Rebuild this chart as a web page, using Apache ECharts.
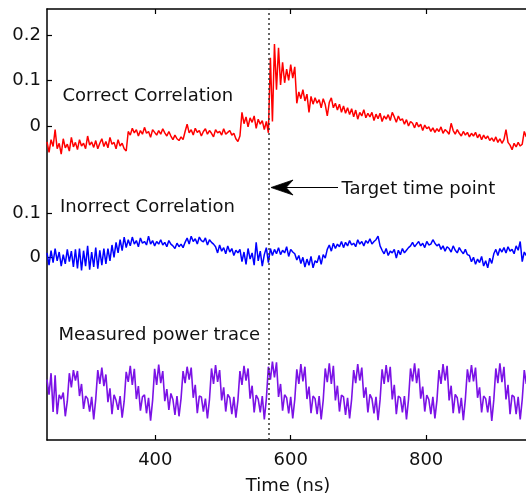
<!DOCTYPE html>
<html>
<head>
<meta charset="utf-8">
<script src="https://cdn.jsdelivr.net/npm/echarts@6/dist/echarts.min.js"></script>
<style>
  html, body { margin: 0; padding: 0; background: #fff; }
  #chart { width: 526px; height: 496px; }
</style>
</head>
<body>
<div id="chart"></div>
<script>
// Sampling grid of all three traces (ns)
const T_START = 240;
const T_STEP = 3;
const T_MIN = 240;
const T_MAX = 952;
const TARGET_TIME = 568;

const xTicks = [400, 600, 800];
const correctTicks = [0, 0.1, 0.2];
const incorrectTicks = [0, 0.1];

// Correlation with the correct key guess
const correctCorr = [
  -0.035,-0.058,-0.030,-0.045,-0.008,-0.050,-0.038,-0.062,-0.028,-0.048,
  -0.040,-0.055,-0.025,-0.046,-0.036,-0.052,-0.030,-0.044,-0.038,-0.050,
  -0.022,-0.042,-0.035,-0.047,-0.032,-0.050,-0.038,-0.028,-0.045,-0.034,
  -0.048,-0.025,-0.040,-0.036,-0.050,-0.030,-0.044,-0.038,-0.050,-0.055,
  -0.012,-0.020,-0.005,-0.015,-0.008,-0.022,-0.010,-0.018,-0.003,-0.016,
  -0.012,-0.025,-0.008,-0.014,-0.020,-0.010,-0.018,-0.006,-0.015,-0.022,-0.012,
  -0.022,-0.030,-0.020,-0.028,-0.032,-0.024,-0.030,
  -0.012,0.004,-0.015,-0.008,-0.020,-0.005,-0.014,-0.010,-0.022,-0.012,
  -0.006,-0.018,-0.010,-0.016,-0.024,-0.008,-0.015,-0.012,-0.020,-0.006,
  -0.018,-0.014,-0.010,-0.020,-0.016,
  -0.028,-0.034,-0.022,
  0.030,0.005,0.020,-0.002,0.018,0.008,0.022,-0.005,0.015,0.004,0.012,-0.008,0.010,
  -0.015,
  0.150,0.010,0.180,0.080,0.172,0.090,0.140,0.095,0.125,0.100,0.135,0.105,0.130,
  0.050,0.075,0.060,0.080,0.055,0.070,0.030,
  0.065,0.048,0.062,0.050,0.058,0.040,0.060,0.047,0.022,0.052,
  0.062,0.040,0.050,0.035,0.048,0.030,0.044,0.028,0.040,0.025,
  0.038,0.020,0.035,0.015,0.030,0.022,0.036,0.018,0.028,0.020,
  0.030,0.012,0.026,0.016,0.028,0.010,0.022,0.015,0.025,0.012,
  0.030,0.020,0.008,0.022,0.012,0.016,0.004,0.014,0.000,0.010,
  0.006,-0.004,0.008,-0.002,0.004,-0.010,0.002,-0.006,-0.002,-0.012,
  -0.004,-0.014,-0.006,-0.012,-0.002,-0.016,-0.008,-0.012,-0.018,0.006,
  -0.010,-0.018,-0.008,-0.016,-0.022,-0.012,-0.020,-0.014,-0.024,-0.016,
  -0.022,-0.014,-0.026,-0.018,-0.030,-0.020,-0.028,-0.022,-0.032,-0.026,
  -0.034,-0.024,-0.036,-0.028,-0.038,-0.030,-0.008,-0.036,-0.042,-0.052,
  -0.038,-0.046,-0.036,-0.044,-0.040,-0.012,-0.024
];

// Correlation with a wrong key guess
const incorrectCorr = [
  0.010,-0.018,0.015,-0.012,0.020,-0.008,0.012,-0.020,0.006,-0.015,0.018,-0.010,0.014,-0.022,
  0.018,-0.025,0.020,-0.030,0.015,-0.020,0.026,-0.028,0.012,-0.022,0.022,-0.026,0.016,-0.018,0.020,
  -0.015,0.020,-0.008,0.028,0.000,0.034,0.010,0.040,0.015,0.046,
  0.022,0.040,0.026,0.046,0.030,0.038,0.024,0.044,0.032,0.036,0.028,0.048,
  0.030,0.038,0.026,0.036,0.030,0.040,0.028,0.034,0.024,0.038,0.030,0.026,
  0.020,0.032,0.024,0.030,0.022,
  0.034,0.044,0.030,0.048,0.036,0.042,0.030,0.046,0.038,0.035,0.044,0.028,0.040,0.034,0.030,
  0.024,0.010,0.028,0.014,0.022,0.008,0.026,0.012,0.020,0.004,0.016,0.010,
  0.018,-0.010,0.012,-0.016,0.020,-0.004,0.010,-0.018,0.034,-0.008,0.014,-0.020,0.006,0.022,-0.012,
  0.020,0.004,0.018,0.008,0.022,0.006,0.016,0.010,0.024,0.002,0.018,0.012,0.008,
  -0.006,0.004,-0.014,0.000,-0.022,-0.004,-0.018,0.002,-0.024,-0.008,-0.012,0.004,-0.016,0.006,-0.002,
  0.018,0.028,0.014,0.032,0.020,0.030,0.024,0.036,0.022,0.034,0.026,0.038,0.028,0.032,
  0.024,0.040,0.030,0.036,0.026,0.038,0.032,0.042,0.030,0.036,0.040,0.048,0.026,
  0.016,0.008,0.020,0.004,0.014,0.010,0.018,-0.002,0.016,0.006,0.020,0.010,0.016,0.022,
  0.026,0.034,0.024,0.030,0.036,0.026,0.032,0.022,0.036,0.028,0.030,0.040,0.032,0.026,0.030,
  0.018,0.026,0.014,0.024,0.020,0.012,0.026,0.016,0.010,0.022,0.014,0.008,0.018,0.006,
  0.004,-0.010,0.000,-0.016,-0.004,-0.012,0.002,-0.020,-0.008,-0.024,-0.002,-0.014,
  0.008,0.018,0.004,0.020,0.012,0.022,0.010,0.024,0.014,0.018,0.008,0.026,0.016,0.036,
  -0.010,0.012,0.004
];

// Measured power trace (arbitrary units)
const powerTrace = [
  1.40,1.05,1.55,0.65,1.50,0.60,1.05,0.95,1.10,0.55,0.90,
  1.55,1.22,1.62,1.38,1.60,1.02,1.30,0.72,1.02,0.96,0.66,1.00,0.48,0.95,
  1.62,1.30,1.68,1.25,1.52,0.88,1.20,0.60,1.05,0.92,0.70,1.02,0.52,0.90,
  1.58,1.35,1.72,1.28,1.65,0.95,1.25,0.68,1.00,1.05,0.62,0.98,0.45,0.92,
  1.65,1.28,1.75,1.32,1.60,0.90,1.18,0.70,1.08,0.94,0.58,1.02,0.55,0.96,
  1.60,1.32,1.70,1.40,1.68,0.98,1.28,0.62,1.02,1.00,0.66,0.96,0.50,0.94,
  1.66,1.30,1.74,1.35,1.62,0.92,1.22,0.66,1.06,0.98,0.60,1.00,0.52,0.92,
  1.60,1.28,1.72,1.38,1.66,0.96,1.26,0.64,1.04,0.95,0.64,1.02,0.48,0.95,
  1.70,1.40,1.82,1.45,1.80,1.00,1.30,0.68,1.05,0.98,0.62,1.00,0.50,0.94,
  1.64,1.30,1.76,1.36,1.70,0.95,1.24,0.62,1.02,0.96,0.60,1.02,0.48,0.92,
  1.66,1.34,1.78,1.30,1.72,0.92,1.26,0.66,1.04,1.00,0.58,0.98,0.50,0.95,
  1.62,1.32,1.76,1.38,1.68,0.98,1.22,0.64,1.06,0.96,0.62,1.00,0.46,0.93,
  1.64,1.30,1.74,1.34,1.70,0.94,1.28,0.60,1.02,0.98,0.64,1.02,0.48,0.94,
  1.66,1.36,1.78,1.32,1.66,0.96,1.24,0.66,1.04,0.94,0.60,1.00,0.50,0.92,
  1.62,1.30,1.76,1.38,1.72,0.92,1.26,0.62,1.06,0.98,0.62,0.98,0.46,0.95,
  1.64,1.34,1.74,1.36,1.68,0.98,1.22,0.64,1.02,0.96,0.64,1.02,0.44,0.93,
  1.66,1.32,1.78,1.34,1.70,0.94,1.28,0.60,1.04,1.00,0.60,1.00,0.48,0.94,
  1.62,1.30
];

const FONT = 'DejaVu Sans';
const INK = '#111';

function withTime(values) {
  return values.map((v, i) => [T_START + i * T_STEP, v]);
}

const chart = echarts.init(document.getElementById('chart'), null, { renderer: 'canvas' });

const axisLineStyle = { color: '#000', width: 1.5 };
const tickStyle = { color: '#000', width: 1.2 };
const oneDecimal = v => String(Math.round(v * 10) / 10);

chart.setOption({
  animation: false,
  backgroundColor: '#fff',
  // plot rect fixed by the margins; the right edge of the frame sits just past the canvas
  grid: { left: 47, right: -3, top: 9, bottom: 56, containLabel: false, outerBoundsMode: 'none' },
  xAxis: [
    {
      type: 'value', position: 'bottom', min: T_MIN, max: T_MAX,
      axisLine: { show: true, onZero: false, lineStyle: axisLineStyle },
      axisTick: { show: true, inside: true, length: 5, customValues: xTicks, lineStyle: tickStyle },
      axisLabel: { customValues: xTicks, fontSize: 18, fontFamily: FONT, color: INK, margin: 11 },
      splitLine: { show: false },
      name: 'Time (ns)', nameLocation: 'middle', nameGap: 37,
      nameTextStyle: { fontSize: 18, fontFamily: FONT, color: INK }
    },
    {
      type: 'value', position: 'top', min: T_MIN, max: T_MAX,
      axisLine: { show: true, onZero: false, lineStyle: axisLineStyle },
      axisTick: { show: true, inside: true, length: 5, customValues: xTicks, lineStyle: tickStyle },
      axisLabel: { show: false },
      splitLine: { show: false }
    }
  ],
  yAxis: [
    {
      // correct-key correlation
      type: 'value', position: 'left', min: -0.690, max: 0.2571,
      axisLine: { show: true, onZero: false, lineStyle: axisLineStyle },
      axisTick: { show: true, inside: true, length: 5, customValues: correctTicks, lineStyle: tickStyle },
      axisLabel: { customValues: correctTicks, fontSize: 18, fontFamily: FONT, color: INK, margin: 6,
                   formatter: oneDecimal },
      splitLine: { show: false }
    },
    {
      // wrong-key correlation
      type: 'value', position: 'left', min: -0.4152, max: 0.5643,
      axisLine: { show: false },
      axisTick: { show: true, inside: true, length: 5, customValues: incorrectTicks, lineStyle: tickStyle },
      axisLabel: { customValues: incorrectTicks, fontSize: 18, fontFamily: FONT, color: INK, margin: 6,
                   formatter: oneDecimal },
      splitLine: { show: false }
    },
    {
      // power trace
      type: 'value', position: 'left', min: 0, max: 10, show: false,
      splitLine: { show: false }
    }
  ],
  series: [
    {
      name: 'Correct Correlation', type: 'line', xAxisIndex: 0, yAxisIndex: 0,
      data: withTime(correctCorr), showSymbol: false, symbol: 'none',
      lineStyle: { color: '#ff0000', width: 1.5 }, z: 3,
      markLine: {
        silent: true, symbol: ['none', 'none'],
        label: { show: false },
        lineStyle: { color: '#333', type: [2, 3], width: 1.5 },
        data: [{ xAxis: TARGET_TIME }]
      }
    },
    {
      name: 'Inorrect Correlation', type: 'line', xAxisIndex: 0, yAxisIndex: 1,
      data: withTime(incorrectCorr), showSymbol: false, symbol: 'none',
      lineStyle: { color: '#0000ff', width: 1.5 }, z: 3
    },
    {
      name: 'Measured power trace', type: 'line', xAxisIndex: 0, yAxisIndex: 2,
      data: withTime(powerTrace), showSymbol: false, symbol: 'none',
      lineStyle: { color: '#7b12e6', width: 1.6 }, z: 3
    }
  ]
});

// Trace labels and the arrow pointing at the target time
const tipX = chart.convertToPixel({ xAxisIndex: 0 }, TARGET_TIME) + 2;
const arrowY = 187.5;
const textStyle = (t) => ({ text: t, fill: INK, font: '18px "DejaVu Sans"', verticalAlign: 'middle', align: 'left' });

chart.setOption({
  graphic: [
    { type: 'text', x: 62.5, y: 96, style: textStyle('Correct Correlation'), z: 10 },
    { type: 'text', x: 60, y: 207.5, style: textStyle('Inorrect Correlation'), z: 10 },
    { type: 'text', x: 58.5, y: 335, style: textStyle('Measured power trace'), z: 10 },
    { type: 'text', x: 341.5, y: 189, style: textStyle('Target time point'), z: 10 },
    { type: 'line', shape: { x1: tipX + 14, y1: arrowY, x2: 338, y2: arrowY },
      style: { stroke: '#000', lineWidth: 1 }, z: 10 },
    { type: 'polygon',
      shape: { points: [[tipX, arrowY], [tipX + 22, arrowY - 7.5], [tipX + 15, arrowY], [tipX + 22, arrowY + 7.5]] },
      style: { fill: '#000', stroke: '#000', lineWidth: 0.8 }, z: 10 }
  ]
});
</script>
</body>
</html>
